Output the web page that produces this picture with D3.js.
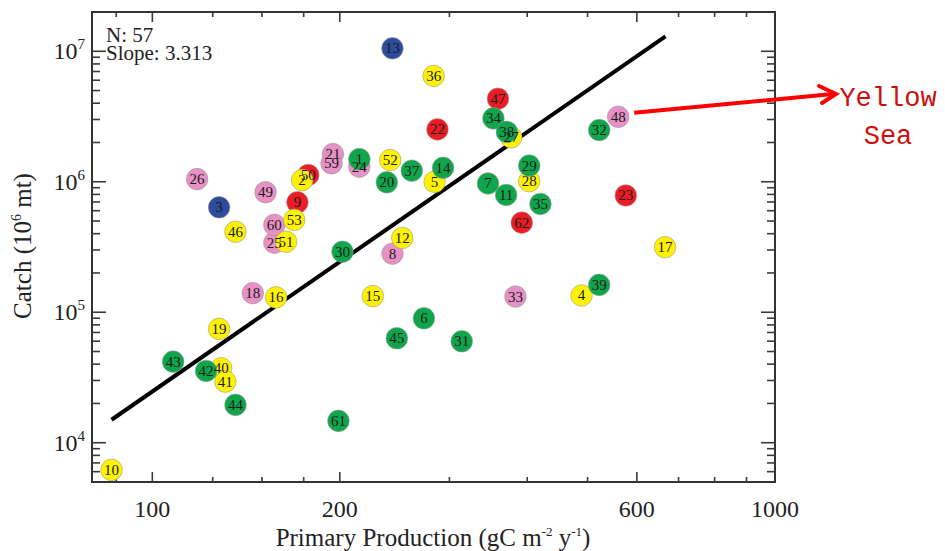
<!DOCTYPE html>
<html>
<head>
<meta charset="utf-8">
<script src="https://cdn.jsdelivr.net/npm/d3@7"></script>
<style>
  html, body { margin: 0; padding: 0; background: #fff; }
  svg { display: block; }
</style>
</head>
<body>
<svg id="chart" width="945" height="551"></svg>
<script>
// ---------- data ----------
const labels = [1,2,3,4,5,6,7,8,9,10,11,12,13,14,15,16,17,18,19,20,21,22,23,24,25,26,27,28,29,30,31,32,33,34,35,36,37,38,39,40,41,42,43,44,45,46,47,48,49,50,51,52,53,59,60,61,62];
const groups = ["green","yellow","blue","yellow","yellow","green","green","pink","red","yellow",
                "green","yellow","blue","green","yellow","yellow","yellow","pink","yellow","green",
                "pink","red","red","pink","pink","pink","yellow","yellow","green","green",
                "green","green","pink","green","green","yellow","green","green","green","yellow",
                "yellow","green","green","green","green","yellow","red","pink","pink","red",
                "yellow","yellow","yellow","pink","pink","green","red"];
const production = [215,174,128,489,284,273,346,243,171,86,
                    370,252,243,293,226,158,666,145,128,238,
                    195,287,576,215,157,118,377,403,403,202,
                    314,522,383,353,420,283,261,371,522,129,
                    131,122,108,136,247,136,359,560,152,178,
                    164,241,169,194,157,199,392];
const catchMt = [1.49e6,1.03e6,6.37e5,1.345e5,1.0e6,8.99e4,9.7e5,2.81e5,6.96e5,6.19e3,
                 7.92e5,3.71e5,1.054e7,1.28e6,1.33e5,1.30e5,3.15e5,1.40e5,7.45e4,9.91e5,
                 1.63e6,2.52e6,7.85e5,1.305e6,3.41e5,1.047e6,2.19e6,1.01e6,1.33e6,2.91e5,
                 5.99e4,2.49e6,1.32e5,3.06e6,6.76e5,6.47e6,1.216e6,2.41e6,1.62e5,3.72e4,
                 2.94e4,3.55e4,4.18e4,1.95e4,6.32e4,4.14e5,4.33e6,3.15e6,8.31e5,1.127e6,
                 3.47e5,1.469e6,5.10e5,1.385e6,4.67e5,1.47e4,4.86e5];
const fitX = [86, 667];
const fitY = [1.5e4, 1.3e7];
const xMajorTicks = [100, 200, 600, 1000];
const xMinorTicks = [87.5, 125, 150, 175, 300, 400, 500, 700, 800, 900];
const yMajorTicks = [1e4, 1e5, 1e6, 1e7];
const yTickExponents = ["4", "5", "6", "7"];
const statsText = ["N: 57", "Slope: 3.313"];
const annotationText = ["Yellow", "Sea"];
const annotatedLabel = 48;

// ---------- styles ----------
const colors = { pink: "#e891c6", red: "#ec1c24", yellow: "#fff200", blue: "#2e4c9c", green: "#0fa64b" };
const drawOrder = ["pink", "red", "yellow", "blue", "green"];

const svg = d3.select("#chart");
const L = 92, R = 775, T = 12, B = 482;

const x = d3.scaleLog().domain([80, 1000]).range([L, R]);
const y = d3.scaleLog().domain([5000, 2e7]).range([B, T]);

const serif = "'Liberation Serif', 'Times New Roman', serif";

// ---------- frame ----------
svg.append("rect").attr("x", L).attr("y", T).attr("width", R - L).attr("height", B - T)
  .attr("fill", "none").attr("stroke", "#333").attr("stroke-width", 2);

// ---------- ticks (inward, mirrored) ----------
const tickG = svg.append("g").attr("stroke", "#3a3a3a").attr("stroke-width", 1.6);
function xTick(v, len) {
  tickG.append("line").attr("x1", x(v)).attr("x2", x(v)).attr("y1", B).attr("y2", B - len);
  tickG.append("line").attr("x1", x(v)).attr("x2", x(v)).attr("y1", T).attr("y2", T + len);
}
xMajorTicks.filter(v => v < 1000).forEach(v => xTick(v, 10));
xMinorTicks.forEach(v => xTick(v, 5));

function yTick(v, len) {
  tickG.append("line").attr("x1", L).attr("x2", L + len).attr("y1", y(v)).attr("y2", y(v));
  tickG.append("line").attr("x1", R).attr("x2", R - len).attr("y1", y(v)).attr("y2", y(v));
}
yMajorTicks.forEach(v => yTick(v, 14));
y.ticks().filter(v => !yMajorTicks.includes(v) && v > 5000 && v < 2e7).forEach(v => yTick(v, 8));

// ---------- tick labels ----------
svg.append("g").selectAll("text").data(xMajorTicks).join("text")
  .attr("x", d => x(d)).attr("y", 517)
  .attr("text-anchor", "middle")
  .attr("font-family", serif).attr("font-size", 24).attr("fill", "#222")
  .text(d => d);

const yl = svg.append("g").selectAll("text").data(yMajorTicks).join("text")
  .attr("x", 85).attr("y", d => y(d) + 8)
  .attr("text-anchor", "end")
  .attr("font-family", serif).attr("font-size", 24).attr("fill", "#222");
yl.append("tspan").text("10");
yl.append("tspan").attr("dy", -10).attr("font-size", 15).text((d, i) => yTickExponents[i]);

// ---------- axis titles ----------
const xt = svg.append("text").attr("x", 433).attr("y", 546).attr("text-anchor", "middle")
  .attr("font-family", serif).attr("font-size", 25).attr("fill", "#222");
xt.append("tspan").text("Primary Production (gC m");
xt.append("tspan").attr("dy", -10).attr("font-size", 13).text("-2");
xt.append("tspan").attr("dy", 10).text(" y");
xt.append("tspan").attr("dy", -10).attr("font-size", 13).text("-1");
xt.append("tspan").attr("dy", 10).text(")");

const yt = svg.append("text").attr("transform", "translate(31,246) rotate(-90)")
  .attr("text-anchor", "middle")
  .attr("font-family", serif).attr("font-size", 25).attr("fill", "#222");
yt.append("tspan").text("Catch (10");
yt.append("tspan").attr("dy", -10).attr("font-size", 14).text("6");
yt.append("tspan").attr("dy", 10).text(" mt)");

// ---------- stats text ----------
svg.append("g").selectAll("text").data(statsText).join("text")
  .attr("x", 106).attr("y", (d, i) => 42 + i * 18)
  .attr("font-family", serif).attr("font-size", 21).attr("fill", "#222")
  .text(d => d);

// ---------- regression line ----------
svg.append("line")
  .attr("x1", x(fitX[0])).attr("y1", y(fitY[0]))
  .attr("x2", x(fitX[1])).attr("y2", y(fitY[1]))
  .attr("stroke", "#000").attr("stroke-width", 4);

// ---------- points ----------
const pts = labels.map((l, i) => ({ label: l, group: groups[i], px: production[i], cy: catchMt[i] }));
const ordered = pts.slice().sort((a, b) =>
  drawOrder.indexOf(a.group) - drawOrder.indexOf(b.group) || a.label - b.label);

svg.append("g").selectAll("circle").data(ordered).join("circle")
  .attr("cx", d => x(d.px)).attr("cy", d => y(d.cy)).attr("r", 10.8)
  .attr("fill", d => colors[d.group])
  .attr("stroke", "#9a9a9a").attr("stroke-width", 0.6);

svg.append("g").selectAll("text").data(ordered).join("text")
  .attr("x", d => x(d.px)).attr("y", d => y(d.cy) + 5)
  .attr("text-anchor", "middle")
  .attr("font-family", serif).attr("font-size", 15).attr("fill", "#1a1a1a")
  .text(d => d.label);

// ---------- Yellow Sea annotation ----------
const ys = pts.find(p => p.label === annotatedLabel);
const ax0 = x(ys.px) + 16, ay0 = y(ys.cy) - 4;
const tipX = 836, tipY = 94;
const red = "#ff0000";
svg.append("line").attr("x1", ax0).attr("y1", ay0).attr("x2", tipX - 3).attr("y2", tipY)
  .attr("stroke", red).attr("stroke-width", 4);
svg.append("path")
  .attr("d", `M${tipX - 17},${tipY - 8} L${tipX},${tipY} L${tipX - 14},${tipY + 9}`)
  .attr("fill", "none").attr("stroke", red).attr("stroke-width", 4)
  .attr("stroke-linecap", "round").attr("stroke-linejoin", "miter");

svg.append("g").selectAll("text").data(annotationText).join("text")
  .attr("x", 888).attr("y", (d, i) => 106 + i * 38)
  .attr("text-anchor", "middle")
  .attr("font-family", "'Liberation Mono', 'DejaVu Sans Mono', monospace")
  .attr("font-size", 27).attr("fill", "#cc1010")
  .text(d => d);
</script>
</body>
</html>
